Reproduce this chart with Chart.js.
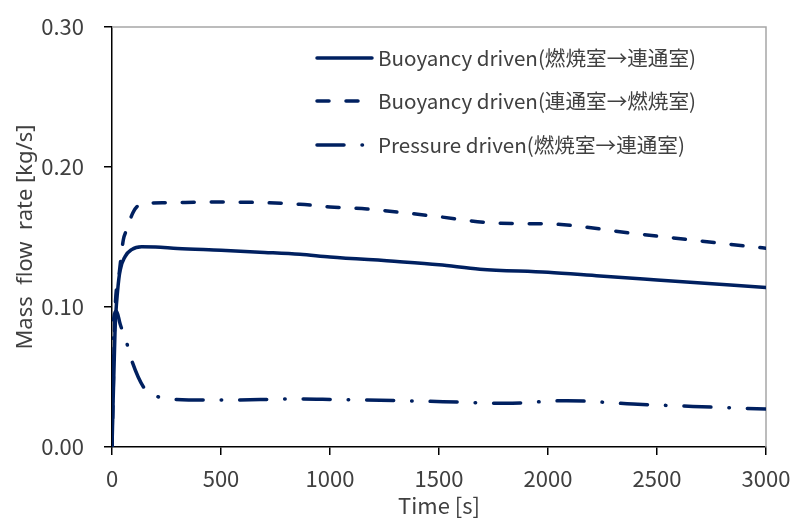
<!DOCTYPE html>
<html lang="ja">
<head>
<meta charset="utf-8">
<title>Mass flow rate</title>
<script src="https://cdn.jsdelivr.net/npm/chart.js@4/dist/chart.umd.min.js"></script>
<style>
  html, body { margin: 0; padding: 0; background: #fff; }
  #wrap { width: 795px; height: 519px; }
</style>
</head>
<body>
<div id="wrap"><canvas id="flowChart" width="795" height="519"></canvas></div>
<script>
// ---------- データ ----------
const buoyOutTime = [0, 14, 26, 37, 60, 90, 136, 200, 300, 500, 700, 862, 1000, 1321, 1500, 1688, 2000, 2239, 2500, 3000];
const buoyOutFlow = [0, 0.084, 0.112, 0.126, 0.136, 0.141, 0.143, 0.1428, 0.1418, 0.1405, 0.139, 0.1376, 0.1357, 0.1324, 0.1302, 0.127, 0.1248, 0.1221, 0.1193, 0.114];

const buoyInTime = [0, 15, 30, 52, 67, 98, 136, 243, 500, 700, 862, 1000, 1170, 1472, 1780, 2009, 2390, 2940, 3000];
const buoyInFlow = [0, 0.1, 0.12, 0.148, 0.155, 0.168, 0.1736, 0.1745, 0.175, 0.1745, 0.1734, 0.1715, 0.17, 0.165, 0.1598, 0.1593, 0.1526, 0.143, 0.142];

const pressTime = [0, 8, 21, 37, 69, 90, 148, 209, 289, 500, 862, 1000, 1519, 1803, 2087, 2390, 2665, 3000];
const pressFlow = [0, 0.092, 0.097, 0.088, 0.0736, 0.062, 0.042, 0.036, 0.034, 0.0335, 0.0343, 0.034, 0.0324, 0.0312, 0.0331, 0.0307, 0.029, 0.0271];

const seriesLabels = [
  'Buoyancy driven(燃焼室→連通室)',
  'Buoyancy driven(連通室→燃焼室)',
  'Pressure driven(燃焼室→連通室)',
];
const xTicks = [0, 500, 1000, 1500, 2000, 2500, 3000];
const yTicks = [0, 0.1, 0.2, 0.3];

const NAVY = '#002060';
const TEXT = '#404040';
const FONT = "'Noto Sans CJK JP', 'Noto Sans', sans-serif";
const NUM_FONT = "'Liberation Sans Narrow', 'Noto Sans CJK JP', sans-serif";

const toPoints = (xs, ys) => xs.map((x, i) => ({ x, y: ys[i] }));

// ---------- 凡例（プロット内、右上） ----------
const insideLegend = {
  id: 'insideLegend',
  afterDatasetsDraw(chart) {
    const { ctx } = chart;
    const x0 = 317, x1 = 372, rows = [58, 101, 145];
    chart.data.datasets.forEach((ds, i) => {
      const y = rows[i];
      ctx.save();
      ctx.strokeStyle = ds.borderColor;
      ctx.lineWidth = ds.borderWidth;
      ctx.lineCap = 'round';
      ctx.setLineDash(ds.borderDash || []);
      ctx.beginPath();
      ctx.moveTo(x0, y);
      ctx.lineTo(x1, y);
      ctx.stroke();
      ctx.setLineDash([]);
      ctx.fillStyle = TEXT;
      ctx.font = '20.6px ' + FONT;
      ctx.textBaseline = 'middle';
      ctx.fillText(ds.label, 378, y);
      ctx.restore();
    });
  },
};

// ---------- 上・右の枠線（灰色） ----------
const frame = {
  id: 'frame',
  beforeDatasetsDraw(chart) {
    const { ctx, chartArea: a } = chart;
    ctx.save();
    ctx.strokeStyle = '#a6a6a6';
    ctx.lineWidth = 1.5;
    ctx.beginPath();
    ctx.moveTo(a.left, a.top);
    ctx.lineTo(a.right, a.top);
    ctx.lineTo(a.right, a.bottom);
    ctx.stroke();
    ctx.restore();
  },
};

const lineStyle = {
  borderColor: NAVY,
  backgroundColor: NAVY,
  borderWidth: 3.5,
  borderCapStyle: 'round',
  pointRadius: 0,
  showLine: true,
  fill: false,
  cubicInterpolationMode: 'monotone',
};

new Chart(document.getElementById('flowChart'), {
  type: 'scatter',
  data: {
    datasets: [
      { ...lineStyle, label: seriesLabels[0], data: toPoints(buoyOutTime, buoyOutFlow), borderDash: [] },
      { ...lineStyle, label: seriesLabels[1], data: toPoints(buoyInTime, buoyInFlow), borderDash: [12, 17] },
      { ...lineStyle, label: seriesLabels[2], data: toPoints(pressTime, pressFlow), borderDash: [27, 18, 0.5, 18] },
    ],
  },
  options: {
    responsive: false,
    animation: false,
    layout: { padding: { top: 27, right: 29, left: 0, bottom: 0 } },
    plugins: { legend: { display: false }, tooltip: { enabled: false } },
    scales: {
      x: {
        type: 'linear',
        min: 0,
        max: 3000,
        afterBuildTicks: (s) => { s.ticks = xTicks.map((v) => ({ value: v })); },
        afterFit: (s) => { s.height = 72; s.paddingLeft = 0; s.paddingRight = 0; },
        grid: { drawOnChartArea: false, tickLength: 8, tickColor: '#000', lineWidth: 1.5 },
        border: { color: '#000', width: 1.5 },
        ticks: { color: TEXT, font: { family: NUM_FONT, size: 22 }, padding: 10, maxRotation: 0, callback: (v) => String(v) },
        title: { display: true, text: 'Time [s]', color: TEXT, font: { family: NUM_FONT, size: 22 }, padding: { top: 0, bottom: 0 } },
      },
      y: {
        type: 'linear',
        min: 0,
        max: 0.3,
        afterBuildTicks: (s) => { s.ticks = yTicks.map((v) => ({ value: v })); },
        afterFit: (s) => { s.width = 112; s.paddingTop = 0; s.paddingBottom = 0; },
        grid: { drawOnChartArea: false, tickLength: 8, tickColor: '#000', lineWidth: 1.5 },
        border: { color: '#000', width: 1.5 },
        ticks: { color: TEXT, font: { family: NUM_FONT, size: 22 }, padding: 20, callback: (v) => v.toFixed(2) },
        title: { display: true, text: 'Mass  flow  rate [kg/s]', color: TEXT, font: { family: 'Noto Sans', size: 22 }, padding: { top: 13, bottom: 0 } },
      },
    },
  },
  plugins: [frame, insideLegend],
});
</script>
</body>
</html>
